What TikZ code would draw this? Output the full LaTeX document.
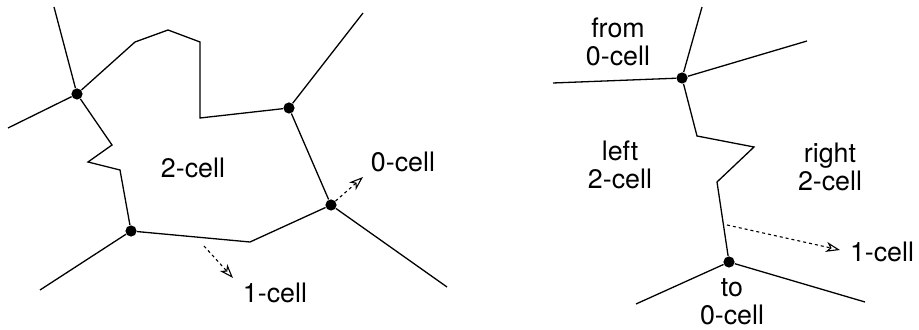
\documentclass[tikz,border=0pt]{standalone}
\usepackage{fontspec}
\setmainfont{TeX Gyre Heros}
\usepackage{tikz}
\usetikzlibrary{positioning}
\usetikzlibrary{arrows.meta}

\begin{document}
\begin{tikzpicture}[
    x=0.5pt, y=-0.5pt,
    edge/.style={
      line width=0.65pt
    },
    pointer/.style={
      line width=0.55pt,
      dash pattern=on 1.5pt off 1.5pt,
      -{Stealth[open, length=7pt, width=5pt, inset=2pt]}
    },
    vertex/.style={
      circle,
      fill=black,
      inner sep=0pt,
      minimum size=5.6pt
    },
    label/.style={
      align=center,
      inner sep=0pt,
      font=\fontsize{13.4}{14}\selectfont
    }
  ]
  \useasboundingbox (0,0) rectangle (919,330);

  % left: a 2-cell with its boundary
  \begin{scope}
    \node[vertex] (A) at (77,94) {};
    \node[vertex] (B) at (289,108) {};
    \node[vertex] (C) at (331,205) {};
    \node[vertex] (D) at (131,231) {};

    \coordinate (Aup) at (54,7);
    \coordinate (Aleft) at (8,128);
    \coordinate (Bup) at (363,13);
    \coordinate (Cdown) at (447,287);
    \coordinate (Ddown) at (40,290);

    \draw[edge] (A) -- (Aup);
    \draw[edge] (A) -- (Aleft);
    \draw[edge] (B) -- (Bup);
    \draw[edge] (C) -- (Cdown);
    \draw[edge] (D) -- (Ddown);

    \draw[edge] (A) -- (135,42) -- (168,30) -- (200,42) -- (200,118) -- (B);
    \draw[edge] (B) -- (C);
    \draw[edge] (C) -- (250,242) -- (D);
    \draw[edge] (D) -- (120,170) -- (88,162) -- (112,145) -- (A);

    \node[label] (twocell) at (193,168) {2-cell};
    \node[label] (zerocell) at (403,162) {0-cell};
    \node[label] (onecell) at (275,293) {1-cell};

    \coordinate (zerotip) at (363,177);
    \coordinate (onefoot) at (204,246);
    \coordinate (onetip) at (233,278);
    \draw[pointer] (C) -- (zerotip);
    \draw[pointer] (onefoot) -- (onetip);
  \end{scope}

  % right: a 1-cell between two 0-cells
  \begin{scope}
    \node[vertex] (E) at (682,78) {};
    \node[vertex] (F) at (729,262) {};

    \coordinate (Eup) at (702,7);
    \coordinate (Eright) at (807,41);
    \coordinate (Eleft) at (553,83);
    \coordinate (Fleft) at (636,304);
    \coordinate (Fright) at (865,302);

    \draw[edge] (E) -- (Eup);
    \draw[edge] (E) -- (Eright);
    \draw[edge] (E) -- (Eleft);
    \draw[edge] (F) -- (Fleft);
    \draw[edge] (F) -- (Fright);
    \draw[edge] (E) -- (697,136) -- (754,147) -- (717,182) -- (F);

    \node[label] (from) at (618,42) {from\\0-cell};
    \node[label] (left) at (620,165) {left\\2-cell};
    \node[label] (right) at (830,167) {right\\2-cell};
    \node[label] (to) at (732,302) {to\\0-cell};
    \node[label] (edgelbl) at (882,252) {1-cell};

    \coordinate (edgefoot) at (727,225);
    \coordinate (edgetip) at (840,250);
    \draw[pointer] (edgefoot) -- (edgetip);
  \end{scope}
\end{tikzpicture}
\end{document}
